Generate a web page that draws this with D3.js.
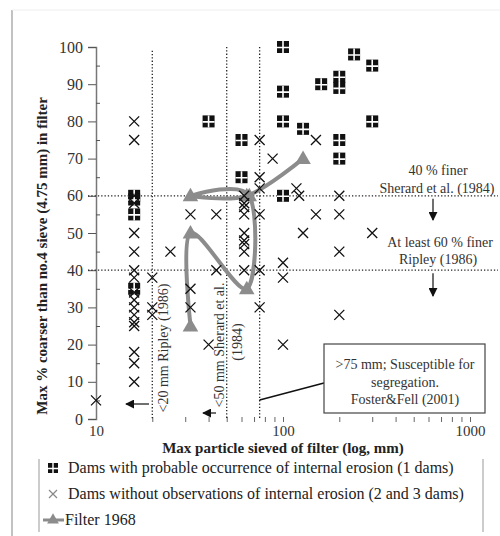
<!DOCTYPE html>
<html><head><meta charset="utf-8">
<script src="https://cdn.jsdelivr.net/npm/d3@7/dist/d3.min.js"></script>
<style>
body{margin:0;background:#fff;}
svg{display:block;}
text{font-family:"Liberation Serif","Times New Roman",serif;}
</style></head>
<body><svg id="c" width="500" height="536"></svg>
<script>
// ---- data ----
const squarePoints = [[16,60],[16,59],[16,55],[16,35],[40,80],[60,75],[60,65],[100,100],[100,88],[100,80],[100,60],[128,78],[160,90],[200,92],[200,89],[200,75],[200,70],[240,98],[300,95],[300,80]];
const crossPoints = [[10,5],
 [16,80],[16,75],[16,60],[16,58],[16,50],[16,45],[16,40],[16,38],[16,34],[16,32],[16,30],[16,28],[16,26],[16,25],[16,18],[16,15],[16,10],
 [20,38],[20,30],[20,28],[25,45],[32,55],[32,35],[32,30],[40,20],[44,55],[44,40],
 [62,60],[62,58],[62,57],[62,55],[62,50],[62,48],[62,47],[62,45],[62,40],
 [75,75],[75,65],[75,62],[75,55],[75,40],[75,30],[88,70],
 [100,42],[100,38],[100,20],[118,62],[122,60],[128,50],[150,75],[150,55],
 [200,60],[200,55],[200,45],[200,28],[300,50]];
const filterPoints = [[32,25],[32,50],[64,35],[66,60],[32,60],[64,60],[128,70]];
const yTicks = [0,10,20,30,40,50,60,70,80,90,100];
const yMinorTicks = [5,15,25,35,45,55,65,75,85,95];
const xTickLabels = [10,100,1000];
const xMinorTicks = [20,30,40,50,60,70,80,90,200,300,400,500,600,700,800,900];
const vLimits = [20,50,75];
const hLimits = [60,40];
const legendLabels = ["Dams with probable occurrence of internal erosion (1 dams)",
 "Dams without observations of internal erosion (2 and 3 dams)","Filter 1968"];

// ---- scales ----
const x = d3.scaleLog().domain([10,1000]).range([96,470]);
const y = d3.scaleLinear().domain([0,100]).range([419,47]);
const svg = d3.select("#c");
const FS = "Liberation Serif";

// outer frame
svg.append("line").attr("x1",12).attr("x2",12).attr("y1",10).attr("y2",536).attr("stroke","#999").attr("stroke-width",1.2);
svg.append("line").attr("x1",12).attr("x2",500).attr("y1",10).attr("y2",10).attr("stroke","#eee").attr("stroke-width",1);

// y axis
const ya = svg.append("g").attr("transform","translate(96,0)")
 .call(d3.axisLeft(y).tickValues(yTicks).tickSize(8).tickPadding(5).tickFormat(d3.format("d")));
ya.select(".domain").attr("stroke","#777").attr("stroke-width",1.5);
ya.selectAll(".tick line").attr("stroke","#555");
ya.selectAll("text").attr("font-size",16).attr("fill","#333").attr("font-family",FS);
const ym = svg.append("g").attr("transform","translate(96,0)")
 .call(d3.axisRight(y).tickValues(yMinorTicks).tickSize(4).tickFormat(""));
ym.select(".domain").remove();
ym.selectAll(".tick line").attr("stroke","#555");

// x axis
const xm = svg.append("g").attr("transform","translate(0,422)")
 .call(d3.axisTop(x).tickValues(xMinorTicks.concat([100,1000])).tickSize(5).tickFormat(""));
xm.select(".domain").remove();
xm.selectAll(".tick line").attr("stroke","#666");
const xl = svg.append("g").attr("transform","translate(0,418)")
 .call(d3.axisBottom(x).tickValues(xTickLabels).tickSize(0).tickPadding(7).tickFormat(d3.format("d")));
xl.select(".domain").remove();
xl.selectAll("text").attr("font-size",15).attr("fill","#333").attr("font-family",FS);

// axis titles
svg.append("text").attr("x",283).attr("y",453).attr("text-anchor","middle")
 .attr("font-size",15).attr("font-weight","bold").attr("fill","#222").text("Max particle sieved of filter (log, mm)");
svg.append("text").attr("transform","translate(47,256) rotate(-90)").attr("text-anchor","middle")
 .attr("font-size",15).attr("font-weight","bold").attr("fill","#222").text("Max % coarser than no.4 sieve (4.75 mm) in filter");

// dotted limit lines
const dot = g => g.attr("stroke","#222").attr("stroke-width",1.3).attr("stroke-dasharray","1.3,2").attr("fill","none");
svg.selectAll(".vl").data(vLimits).join("line").attr("x1",d=>x(d)).attr("x2",d=>x(d))
 .attr("y1",d=>d===20?y(99):y(100)).attr("y2",y(0)).call(dot);
svg.selectAll(".hl").data(hLimits).join("line").attr("x1",88).attr("x2",498)
 .attr("y1",d=>y(d)).attr("y2",d=>y(d)).call(dot);

// arrow marker
const defs = svg.append("defs");
defs.append("marker").attr("id","ah").attr("viewBox","0 0 10 10").attr("refX",9).attr("refY",5)
 .attr("markerWidth",9).attr("markerHeight",9).attr("markerUnits","userSpaceOnUse").attr("orient","auto")
 .append("path").attr("d","M0,0L10,5L0,10z").attr("fill","#111");
const arrow = (x1,y1,x2,y2)=>svg.append("line").attr("x1",x1).attr("y1",y1).attr("x2",x2).attr("y2",y2)
 .attr("stroke","#111").attr("stroke-width",1.2).attr("marker-end","url(#ah)");

// annotations
const ann = (tx,ty,str,opt={})=>svg.append("text").attr("x",tx).attr("y",ty).attr("text-anchor","middle")
 .attr("font-size",opt.fs||14).attr("fill","#333").text(str);
ann(438,175,"40 % finer");
ann(437,193,"Sherard et al. (1984)");
arrow(433,y(60)+3,433,220);
ann(440,247,"At least 60 % finer");
ann(438,264,"Ripley (1986)");
arrow(433,y(40)+3,433,296);
// rotated
svg.append("text").attr("transform","translate(163,348) rotate(-90)").attr("text-anchor","middle")
 .attr("dominant-baseline","central").attr("font-size",14).attr("fill","#333").text("<20 mm Ripley (1986)");
arrow(149,404,126,404);
svg.append("text").attr("transform","translate(219,345) rotate(-90)").attr("text-anchor","middle")
 .attr("dominant-baseline","central").attr("font-size",14).attr("fill","#333").text("<50 mm Sherard et al.");
svg.append("text").attr("transform","translate(237,342) rotate(-90)").attr("text-anchor","middle")
 .attr("dominant-baseline","central").attr("font-size",14).attr("fill","#333").text("(1984)");
arrow(216,413,203,413);

// filter line
svg.append("path").datum(filterPoints)
 .attr("d",d3.line().x(d=>x(d[0])).y(d=>y(d[1])).curve(d3.curveCatmullRom.alpha(0)))
 .attr("fill","none").attr("stroke","#8c8c8c").attr("stroke-width",4);
svg.selectAll(".tri").data(filterPoints).join("path")
 .attr("transform",d=>`translate(${x(d[0])},${y(d[1])+1})`)
 .attr("d",d3.symbol().type(d3.symbolTriangle).size(105)).attr("fill","#8c8c8c");

// squares
const sq = svg.selectAll(".sq").data(squarePoints).join("g")
 .attr("transform",d=>`translate(${x(d[0])},${y(d[1])})`);
sq.append("rect").attr("x",-6).attr("y",-6).attr("width",12).attr("height",12).attr("fill","#111");
sq.append("path").attr("d","M-6,0.5H6M0,-6V6").attr("stroke","#fff").attr("stroke-width",1.6);

// crosses
svg.selectAll(".cr").data(crossPoints).join("path")
 .attr("transform",d=>`translate(${x(d[0])},${y(d[1])})`)
 .attr("d","M-5,-5L5,5M-5,5L5,-5").attr("stroke","#111").attr("stroke-width",1.3).attr("fill","none");

// box annotation
svg.append("line").attr("x1",x(75)).attr("y1",400).attr("x2",324).attr("y2",383).attr("stroke","#111").attr("stroke-width",1.5);
svg.append("rect").attr("x",324).attr("y",344).attr("width",161).attr("height",69).attr("fill","#fff").attr("stroke","#444").attr("stroke-width",1.2);
ann(405,369,">75 mm; Susceptible for");
ann(405,387,"segregation.");
ann(405,404,"Foster&Fell (2001)");

// legend
svg.append("line").attr("x1",39).attr("x2",39).attr("y1",459).attr("y2",532).attr("stroke","#999");
svg.append("line").attr("x1",483).attr("x2",483).attr("y1",459).attr("y2",532).attr("stroke","#999");
const ly = [468,494,520];
svg.selectAll(".lt").data(legendLabels).join("text").attr("x",(d,i)=>i===2?65:68).attr("y",(d,i)=>ly[i]+5)
 .attr("font-size",16).attr("fill","#222").text(d=>d);
const lsq = svg.append("g").attr("transform",`translate(53,${ly[0]})`);
lsq.append("rect").attr("x",-5).attr("y",-5).attr("width",10).attr("height",10).attr("fill","#111");
lsq.append("path").attr("d","M-5,0.5H5M0,-5V5").attr("stroke","#fff").attr("stroke-width",1.4);
svg.append("path").attr("transform",`translate(53,${ly[1]})`).attr("d","M-4,-4L4,4M-4,4L4,-4")
 .attr("stroke","#888").attr("stroke-width",1.2);
svg.append("line").attr("x1",43).attr("x2",64).attr("y1",ly[2]).attr("y2",ly[2]).attr("stroke","#8c8c8c").attr("stroke-width",3);
svg.append("path").attr("transform",`translate(53,${ly[2]})`).attr("d",d3.symbol().type(d3.symbolTriangle).size(60)).attr("fill","#8c8c8c");
</script></body></html>
